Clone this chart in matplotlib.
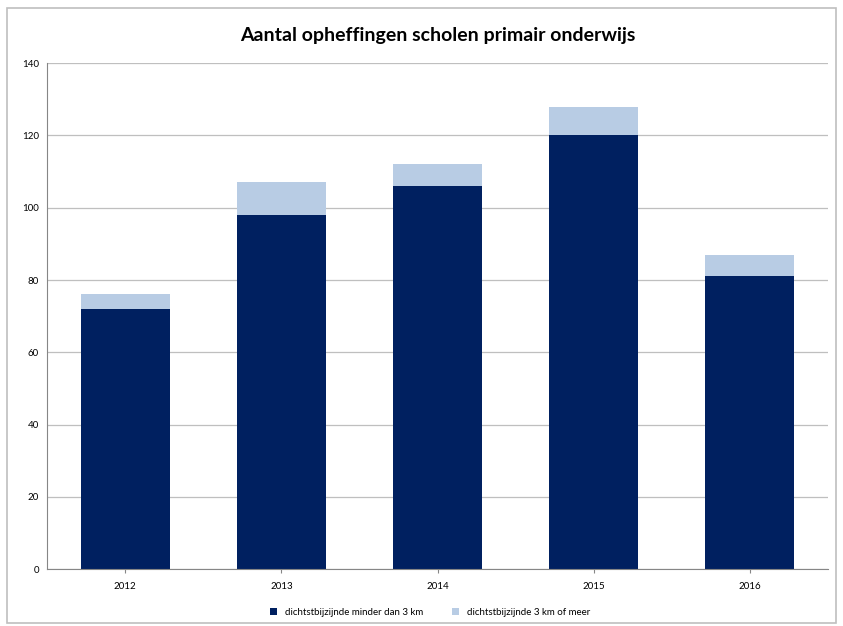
import matplotlib.pyplot as plt
from matplotlib.patches import Rectangle

years = ['2012', '2013', '2014', '2015', '2016']
near = [72, 98, 106, 120, 81]
far = [4, 9, 6, 8, 6]

dark = '#002060'
light = '#B8CCE4'

plt.rcParams['font.family'] = ['Lato', 'DejaVu Sans']

fig = plt.figure(figsize=(8.43, 6.26), dpi=100)
ax = fig.add_axes([0.056, 0.091, 0.926, 0.808])

x = range(len(years))
ax.bar(x, near, width=0.57, color=dark, label='dichtstbijzijnde minder dan 3 km', zorder=2)
ax.bar(x, far, width=0.57, bottom=near, color=light, label='dichtstbijzijnde 3 km of meer', zorder=2)

ax.set_xlim(-0.5, len(years) - 0.5)
ax.set_ylim(0, 140)
ax.set_yticks(range(0, 141, 20))
ax.set_xticks(list(x))
ax.set_xticklabels(years)
ax.tick_params(axis='both', labelsize=7, length=0, pad=6)
ax.tick_params(axis='x', length=3, color='#868686', direction='out')
ax.grid(axis='y', color='#BFBFBF', linewidth=0.9, zorder=0)
for side in ['top', 'right']:
    ax.spines[side].set_visible(False)
ax.spines['left'].set_color('#868686')
ax.spines['bottom'].set_color('#868686')

ax.set_title('Aantal opheffingen scholen primair onderwijs', fontsize=14, fontweight='bold', pad=16)

fig.legend(loc='center', bbox_to_anchor=(0.51, 0.022), ncol=2, frameon=False,
           fontsize=7, handlelength=0.7, handleheight=0.7, columnspacing=3)

fig.patches.append(Rectangle((0.008, 0.005), 0.984, 0.982, transform=fig.transFigure,
                             fill=False, edgecolor='#BFBFBF', linewidth=1.2))

fig.savefig('out.png', dpi=100)
